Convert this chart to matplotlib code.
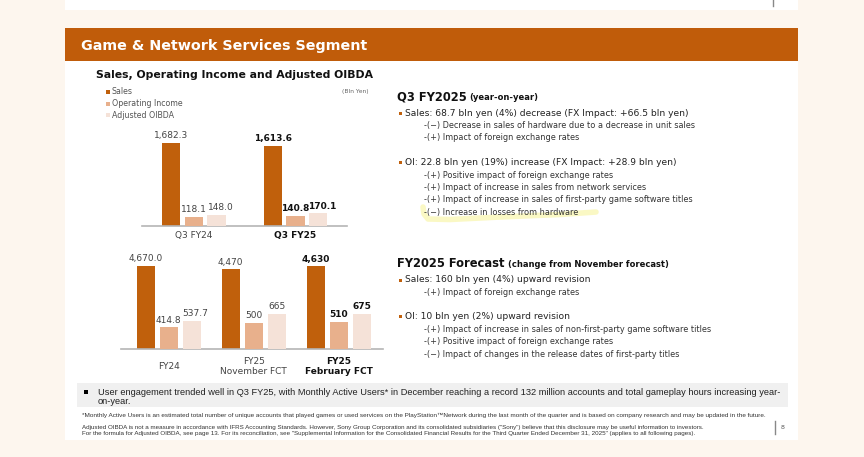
import matplotlib
matplotlib.use("Agg")
import matplotlib.pyplot as plt
from matplotlib.patches import Rectangle

W, H = 864, 457

# ---- data ----
series = ["Sales", "Operating Income", "Adjusted OIBDA"]
q_cats = ["Q3 FY24", "Q3 FY25"]
q_sales = [1682.3, 1613.6]
q_oi = [118.1, 140.8]
q_oibda = [148.0, 170.1]

fy_cats = ["FY24", "FY25\nNovember FCT", "FY25\nFebruary FCT"]
fy_sales = [4670.0, 4470, 4630]
fy_oi = [414.8, 500, 510]
fy_oibda = [537.7, 665, 675]
fy_decimals = [1, 0, 0]

q3_title = "Q3 FY2025"
q3_sub = "(year-on-year)"
q3_lines = [
    ("b", "Sales: 68.7 bln yen (4%) decrease (FX Impact: +66.5 bln yen)"),
    ("s", "-(\u2212) Decrease in sales of hardware due to a decrease in unit sales"),
    ("s", "-(+) Impact of foreign exchange rates"),
    ("b", "OI: 22.8 bln yen (19%) increase (FX Impact: +28.9 bln yen)"),
    ("s", "-(+) Positive impact of foreign exchange rates"),
    ("s", "-(+) Impact of increase in sales from network services"),
    ("s", "-(+) Impact of increase in sales of first-party game software titles"),
    ("s", "-(\u2212) Increase in losses from hardware"),
]
fc_title = "FY2025 Forecast"
fc_sub = "(change from November forecast)"
fc_lines = [
    ("b", "Sales: 160 bln yen (4%) upward revision"),
    ("s", "-(+) Impact of foreign exchange rates"),
    ("b", "OI: 10 bln yen (2%) upward revision"),
    ("s", "-(+) Impact of increase in sales of non-first-party game software titles"),
    ("s", "-(+) Positive impact of foreign exchange rates"),
    ("s", "-(\u2212) Impact of changes in the release dates of first-party titles"),
]
note_main = ("User engagement trended well in Q3 FY25, with Monthly Active Users* in December "
             "reaching a record 132 million accounts and total gameplay hours increasing year-\non-year.")
note_star = ("*Monthly Active Users is an estimated total number of unique accounts that played games or "
             "used services on the PlayStation\u2122Network during the last month of the quarter and is based "
             "on company research and may be updated in the future.")
note_adj = ("Adjusted OIBDA is not a measure in accordance with IFRS Accounting Standards. However, Sony Group "
            "Corporation and its consolidated subsidiaries (\"Sony\") believe that this disclosure may be useful "
            "information to investors.\nFor the formula for Adjusted OIBDA, see page 13. For its reconciliation, "
            "see \"Supplemental Information for the Consolidated Financial Results for the Third Quarter Ended "
            "December 31, 2025\" (applies to all following pages).")

C_SALES = "#c0600c"
C_OI = "#e8b08c"
C_ADJ = "#f5e2d8"
C_HEAD = "#c05c0a"
CREAM = "#fdf6ee"

fig = plt.figure(figsize=(W / 100, H / 100), dpi=100)
fig.patch.set_facecolor(CREAM)

bg = fig.add_axes([0, 0, 1, 1])
bg.set_xlim(0, W)
bg.set_ylim(H, 0)
bg.axis("off")

# page pieces
bg.add_patch(Rectangle((65, 0), 733, 10, color="white", lw=0))
bg.add_patch(Rectangle((65, 28), 733, 412, color="white", lw=0))
bg.add_patch(Rectangle((65, 28), 733, 33, color=C_HEAD, lw=0))
bg.plot([773, 773], [0, 6], color="#888888", lw=1)
bg.text(81, 46, "Game & Network Services Segment", color="white", fontsize=10.3,
        fontweight="bold", va="center")
bg.text(96, 75, "Sales, Operating Income and Adjusted OIBDA", color="#111111", fontsize=7.8,
        fontweight="bold", va="center")

# legend
for i, (name, c) in enumerate(zip(series, [C_SALES, C_OI, C_ADJ])):
    y = 92 + i * 11.5
    bg.add_patch(Rectangle((106, y - 2), 4, 4, color=c, lw=0))
    bg.text(112, y, name, fontsize=5.7, color="#555555", va="center")
bg.text(369, 92, "(Bln Yen)", fontsize=4.3, color="#666666", va="center", ha="right")


def px_axes(x0, y0, x1, y1):
    return fig.add_axes([x0 / W, 1 - y1 / H, (x1 - x0) / W, (y1 - y0) / H])


def bar_panel(rect, cats, sales, oi, oibda, xlim, step, width, ymax_sales, ymax_small,
              decimals, label_off, adj_shift):
    ax = px_axes(*rect)
    ax2 = ax.twinx()
    for a in (ax, ax2):
        a.set_facecolor("none")
        for s in a.spines.values():
            s.set_visible(False)
        a.set_yticks([])
        a.tick_params(length=0)
    ax.spines["bottom"].set_visible(True)
    ax.spines["bottom"].set_color("#b5b5b5")
    ax.spines["bottom"].set_linewidth(1.2)
    ax.set_xlim(*xlim)
    ax.set_ylim(0, ymax_sales)
    ax2.set_ylim(0, ymax_small)
    xs = list(range(len(cats)))
    b1 = ax.bar([x - step for x in xs], sales, width, color=C_SALES)
    b2 = ax2.bar(xs, oi, width, color=C_OI)
    b3 = ax2.bar([x + step for x in xs], oibda, width, color=C_ADJ)
    last = len(cats) - 1
    for bars, vals, shift in ((b1, sales, 0), (b2, oi, 0), (b3, oibda, adj_shift)):
        labels = [f"{v:,.{d}f}" for v, d in zip(vals, decimals)]
        for i, (rect_, lab) in enumerate(zip(bars, labels)):
            dx = shift if len(lab) > 3 else 0
            a = ax if bars is b1 else ax2
            a.annotate(lab, (rect_.get_x() + rect_.get_width() / 2, rect_.get_height()),
                       xytext=(dx, 2), textcoords="offset points", ha="center", va="bottom",
                       fontsize=6.5, color="#111111" if i == last else "#444444",
                       fontweight="bold" if i == last else "normal")
    ax.set_xticks([])
    for i, c in enumerate(cats):
        ax.annotate(c, (i, 0), xycoords=("data", "axes fraction"), xytext=(0, -label_off),
                    textcoords="offset points", ha="center", va="center", fontsize=6.5,
                    linespacing=1.15, color="#111111" if i == last else "#444444",
                    fontweight="bold" if i == last else "normal")
    return ax


bar_panel((141.7, 130, 346.7, 226), q_cats, q_sales, q_oi, q_oibda, (-0.512, 1.503),
          0.223, 0.18, 1939, 1297, [1, 1], 6.5, 3)
bar_panel((121, 255, 383, 349.3), fy_cats, fy_sales, fy_oi, fy_oibda, (-0.562, 2.524),
          0.271, 0.212, 5268, 1779, fy_decimals, 12.5, 2.5)

# highlight smear
bg.plot([423, 424, 428, 450, 500, 560, 596], [207, 214, 219, 219.5, 217, 214.5, 212],
        color="#f6f28a", alpha=0.5, lw=4, solid_capstyle="round", zorder=1)

renderer = fig.canvas.get_renderer()


def text_block(x, y, title, sub, lines, ys):
    t = bg.text(x, y, title, fontsize=8.3, fontweight="bold", color="#111111", va="baseline")
    right = t.get_window_extent(renderer).x1
    xr = bg.transData.inverted().transform((right, 0))[0]
    bg.text(xr + 3, y, sub, fontsize=6.0, fontweight="bold", color="#111111", va="baseline")
    for (kind, s), yy in zip(lines, ys):
        if kind == "b":
            bg.add_patch(Rectangle((398.5, yy - 1.5), 3, 3, color=C_SALES, lw=0, zorder=3))
            bg.text(405, yy, s, fontsize=6.55, color="#222222", va="center", zorder=3)
        else:
            bg.text(424, yy, s, fontsize=5.85, color="#333333", va="center", zorder=3)


text_block(397, 100, q3_title, q3_sub, q3_lines, [113.3, 125.7, 137.7, 162.3, 175, 187.3, 199.3, 212])
text_block(397, 267, fc_title, fc_sub, fc_lines, [280, 292.3, 316.7, 330, 341.5, 354.3])

# bottom notes
bg.add_patch(Rectangle((77, 383), 711, 24, color="#f0f0f0", lw=0))
bg.add_patch(Rectangle((83.5, 389.5), 4, 4, color="black", lw=0))
bg.text(98, 397, note_main, fontsize=6.7, family="Liberation Sans", color="#222222",
        va="center", linespacing=1.1)
bg.text(82, 415, note_star, fontsize=4.6, family="Liberation Sans", color="#333333", va="center")
bg.text(82, 430.5, note_adj, fontsize=4.5, family="Liberation Sans", color="#333333", va="center",
        linespacing=1.2)
bg.plot([775, 775], [421, 434], color="#888888", lw=1)
bg.text(781, 427.5, "8", fontsize=4.5, color="#555555", va="center")

fig.savefig("out.png", dpi=100, facecolor=fig.get_facecolor())
